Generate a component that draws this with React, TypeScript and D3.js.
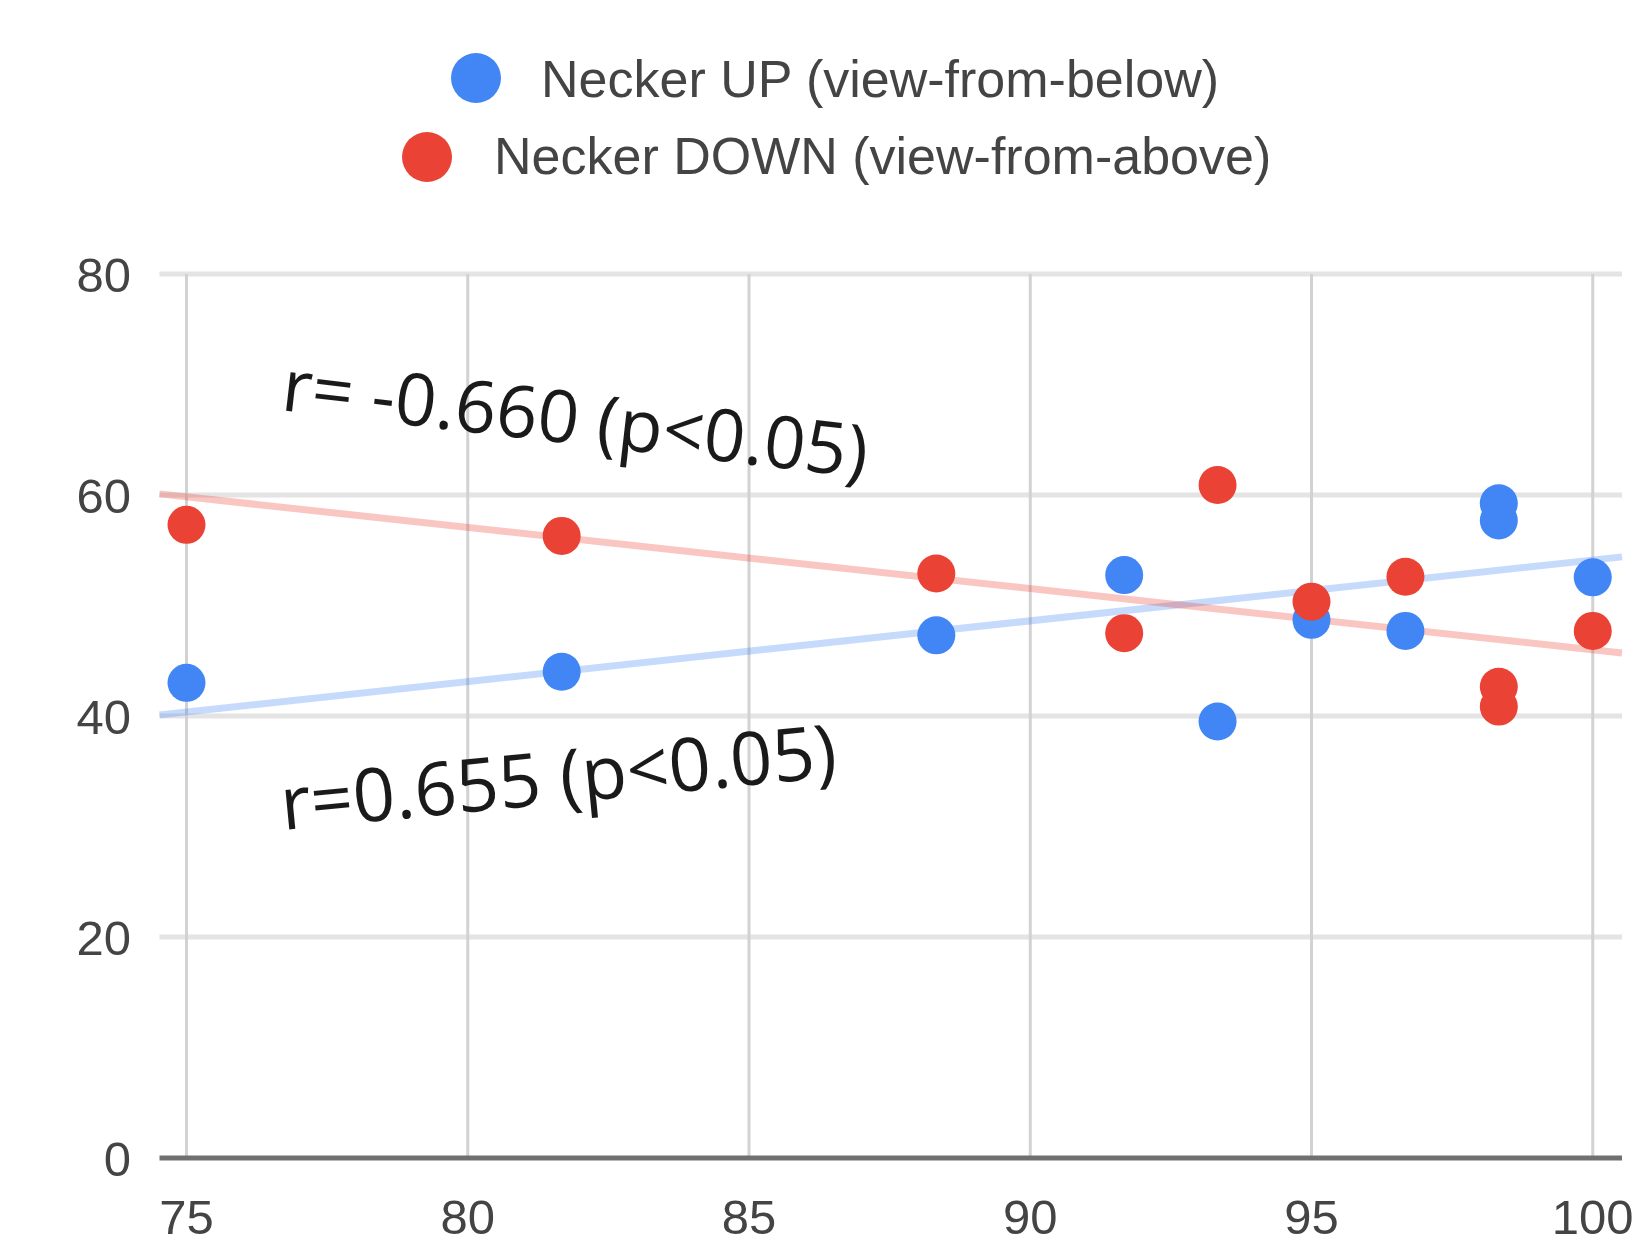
import React, { useEffect } from "react";
import * as d3 from "d3";

// ---- data ----
const xValues = [75, 81.67, 88.33, 91.67, 93.33, 95, 96.67, 98.33, 98.33, 100];
const neckerUp = [43.0, 44.0, 47.3, 52.75, 39.5, 48.7, 47.7, 59.25, 57.7, 52.55];
const neckerDown = [57.3, 56.3, 52.9, 47.5, 60.9, 50.35, 52.6, 42.65, 40.85, 47.7];
const xTicks = [75, 80, 85, 90, 95, 100];
const yTicks = [0, 20, 40, 60, 80];
const trendUpX = [74.52, 100.52];
const trendUpY = [40.1, 54.4];
const trendDownX = [74.52, 100.52];
const trendDownY = [60.1, 45.7];
const seriesNames = ["Necker UP (view-from-below)", "Necker DOWN (view-from-above)"];
const annotations = ["r= -0.660 (p<0.05)", "r=0.655 (p<0.05)"];

const W = 1634;
const H = 1245;
const BLUE = "#4285F4";
const RED = "#EA4335";

export default function App() {
  useEffect(() => {
    document.body.style.margin = "0";
  }, []);

  const x = d3.scaleLinear().domain([74.52, 100.52]).range([159.5, 1622]);
  const y = d3.scaleLinear().domain([0, 80]).range([1158, 274]);
  const line = d3
    .line<[number, number]>()
    .x((d) => x(d[0]))
    .y((d) => y(d[1]));

  const upPts = xValues.map((v, i) => [v, neckerUp[i]] as [number, number]);
  const downPts = xValues.map((v, i) => [v, neckerDown[i]] as [number, number]);
  const upTrend = trendUpX.map((v, i) => [v, trendUpY[i]] as [number, number]);
  const downTrend = trendDownX.map((v, i) => [v, trendDownY[i]] as [number, number]);

  const [x0, x1] = x.range();
  const tickFont = "'Liberation Sans', Arial, sans-serif";

  return (
    <svg width={W} height={H} style={{ display: "block", background: "#fff" }}>
      {/* legend */}
      <g fontFamily={tickFont} fontSize={52} fill="#444">
        <circle cx={476} cy={78} r={25} fill={BLUE} />
        <text x={541} y={97}>{seriesNames[0]}</text>
        <circle cx={427} cy={157} r={25} fill={RED} />
        <text x={494} y={174}>{seriesNames[1]}</text>
      </g>

      {/* horizontal gridlines */}
      {yTicks
        .filter((t) => t !== 0)
        .map((t) => (
          <line key={"h" + t} x1={x0} x2={x1} y1={y(t)} y2={y(t)} stroke="#e4e4e4" strokeWidth={5} />
        ))}
      {/* vertical gridlines */}
      {xTicks.map((t) => (
        <line key={"v" + t} x1={x(t)} x2={x(t)} y1={y(80)} y2={y(0)} stroke="#d2d2d2" strokeWidth={3} />
      ))}
      {/* baseline */}
      <line x1={x0} x2={x1} y1={y(0)} y2={y(0)} stroke="#707070" strokeWidth={5} />

      {/* tick labels */}
      <g fontFamily={tickFont} fontSize={49} fill="#444">
        {yTicks.map((t) => (
          <text key={"yl" + t} x={131} y={y(t) + 17.5} textAnchor="end">
            {t}
          </text>
        ))}
        {xTicks.map((t) => (
          <text key={"xl" + t} x={x(t)} y={1234} textAnchor="middle">
            {t}
          </text>
        ))}
      </g>

      {/* trendlines */}
      <path d={line(upTrend) || ""} stroke={BLUE} strokeOpacity={0.3} strokeWidth={7} fill="none" />
      <path d={line(downTrend) || ""} stroke={RED} strokeOpacity={0.3} strokeWidth={7} fill="none" />

      {/* points */}
      {upPts.map((d, i) => (
        <circle key={"u" + i} cx={x(d[0])} cy={y(d[1])} r={19} fill={BLUE} />
      ))}
      {downPts.map((d, i) => (
        <circle key={"d" + i} cx={x(d[0])} cy={y(d[1])} r={19} fill={RED} />
      ))}

      {/* annotations */}
      <g fontFamily="'Open Sans', sans-serif" fill="#1a1a1a">
        <text fontSize={72.5} transform="translate(280,410) rotate(6.6)">{annotations[0]}</text>
        <text fontSize={74} transform="translate(283,830) rotate(-5.5)">{annotations[1]}</text>
      </g>
    </svg>
  );
}
